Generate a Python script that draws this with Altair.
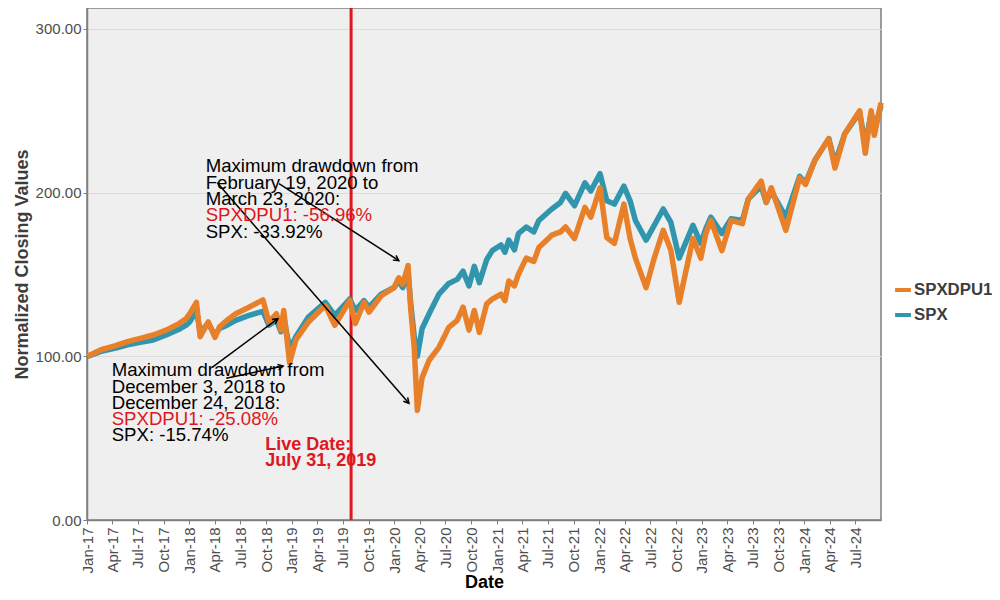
import altair as alt
import pandas as pd

# ---------------- data ----------------
dates = [
    "2017-01-03", "2017-02-20", "2017-04-13", "2017-05-25", "2017-07-10", "2017-08-25",
    "2017-10-10", "2017-11-25", "2017-12-20", "2018-01-02", "2018-01-26", "2018-02-08",
    "2018-03-09", "2018-04-02", "2018-04-18", "2018-05-15", "2018-06-15", "2018-08-01",
    "2018-09-20", "2018-10-11", "2018-11-07", "2018-11-23", "2018-12-03", "2018-12-24",
    "2019-01-15", "2019-03-01", "2019-04-30", "2019-06-03", "2019-07-26", "2019-08-15",
    "2019-09-15", "2019-10-03", "2019-11-15", "2019-12-31", "2020-01-17", "2020-01-31",
    "2020-02-19", "2020-02-28", "2020-03-12", "2020-03-23", "2020-04-09", "2020-05-04",
    "2020-06-08", "2020-07-13", "2020-08-12", "2020-09-02", "2020-09-23", "2020-10-12",
    "2020-10-30", "2020-11-25", "2020-12-15", "2021-01-15", "2021-01-29", "2021-02-12",
    "2021-03-04", "2021-03-18", "2021-04-15", "2021-05-12", "2021-05-30", "2021-07-15",
    "2021-08-15", "2021-09-02", "2021-10-04", "2021-11-10", "2021-12-01", "2022-01-03",
    "2022-01-27", "2022-02-23", "2022-03-29", "2022-04-20", "2022-05-09", "2022-06-16",
    "2022-07-15", "2022-08-16", "2022-09-12", "2022-10-12", "2022-11-30", "2022-12-28",
    "2023-01-15", "2023-02-02", "2023-03-13", "2023-04-15", "2023-05-25", "2023-06-15",
    "2023-07-31", "2023-08-18", "2023-09-05", "2023-10-27", "2023-12-15", "2024-01-05",
    "2024-02-08", "2024-03-28", "2024-04-19", "2024-05-24", "2024-07-16", "2024-08-05",
    "2024-08-26", "2024-09-06", "2024-09-30",
]
spxdpu1 = [
    100, 104, 106.5, 109, 111, 113,
    116, 120, 123, 126, 133, 112,
    121, 111.5, 118, 122, 126, 130,
    134.5, 121, 126, 116, 128, 96,
    110, 121, 131, 119, 134, 120,
    133, 127, 137, 142, 148, 144,
    155.5, 130, 105, 67, 87, 97.6,
    105.5, 117.7, 122, 130, 116, 128,
    114.6, 132, 135, 138, 134, 146,
    143, 150, 160, 158, 166.5, 174,
    176, 179, 172, 191, 185, 203,
    172.5, 169, 193, 172, 160, 142,
    160, 177, 165, 133, 172, 160,
    175, 183, 164.6, 183, 181, 196,
    207, 194, 203, 177, 209, 205,
    220, 233, 215, 236, 250, 224,
    250, 235, 255,
]
spx = [
    100, 103, 105, 107, 108.5, 110,
    113, 116.5, 119, 121, 128, 115,
    120, 113, 117, 119, 122, 125,
    127.5, 119, 122, 115, 124, 104.5,
    112, 124, 133, 125, 135, 128,
    134, 130, 138, 142, 146, 142,
    151, 133, 112, 100, 117, 126,
    138, 144.5, 147, 152, 143, 155,
    145, 159, 164.6, 168, 163.6, 171,
    165, 175, 179, 176, 183, 190,
    194, 199.5, 192, 206, 201, 211.6,
    195, 193, 204, 195, 183, 171,
    180, 190, 182, 160, 180, 169,
    178, 185, 175, 184, 183, 196,
    204, 194, 201, 185, 210, 206,
    220, 233, 218, 236, 249, 229,
    249, 238, 253,
]

series_names = ["SPXDPU1", "SPX"]
live_date = "2019-07-31"
x_domain = ["2017-01-01", "2024-09-30"]
y_domain = [0, 312.8]
y_ticks = [0, 100, 200, 300]

# annotation text (line by line)
upper_text = ["Maximum drawdown from", "February 19, 2020 to", "March 23, 2020:",
              "SPXDPU1: -56.96%", "SPX: -33.92%"]
upper_is_red = [False, False, False, True, False]
upper_date = "2018-02-28"
upper_vals = [216.5, 206.1, 196.3, 186.6, 176.2]

lower_text = ["Maximum drawdown from", "December 3, 2018 to", "December 24, 2018:",
              "SPXDPU1: -25.08%", "SPX: -15.74%"]
lower_is_red = [False, False, False, True, False]
lower_date = "2017-03-30"
lower_vals = [91.5, 81.1, 71.3, 61.6, 51.8]

live_text = ["Live Date:", "July 31, 2019"]
live_text_date = "2018-09-28"
live_text_vals = [45.7, 36.0]

# arrows: start (date, value) -> end (date, value)
arrow_x0 = ["2018-04-10", "2018-11-16", "2018-03-23", "2018-05-12"]
arrow_y0 = [206, 205.5, 93.3, 86.6]
arrow_x1 = ["2020-02-22", "2020-01-17", "2018-11-12", "2018-12-01"]
arrow_y1 = [71.3, 158.5, 123, 94]
arrow_angle = [139, 123, 53, 78]

# ---------------- styles ----------------
ORANGE = "#E8802A"
TEAL = "#3195AE"
RED = "#E0161E"
FONT = "Liberation Sans"

# ---------------- tables ----------------
lines_df = pd.concat([
    pd.DataFrame({"date": dates, "value": spx, "series": "SPX"}),
    pd.DataFrame({"date": dates, "value": spxdpu1, "series": "SPXDPU1"}),
])

text_df = pd.DataFrame({
    "date": [upper_date] * len(upper_text) + [lower_date] * len(lower_text),
    "value": upper_vals + lower_vals,
    "text": upper_text + lower_text,
    "col": [RED if r else "black" for r in upper_is_red + lower_is_red],
})
live_df = pd.DataFrame({"date": [live_text_date] * 2, "value": live_text_vals, "text": live_text})
arrow_df = pd.DataFrame({"x0": arrow_x0, "y0": arrow_y0, "x1": arrow_x1, "y1": arrow_y1,
                         "ang": arrow_angle})
live_line_df = pd.DataFrame({"date": [live_date]})

xscale = alt.Scale(type="utc", domain=x_domain)
yscale = alt.Scale(domain=y_domain, nice=False, zero=False)
xaxis = alt.Axis(format="%b-%y", tickCount=alt.TickCount(interval="month", step=3),
                 labelAngle=270, labelAlign="right", labelBaseline="middle",
                 labelFontSize=15, grid=False, title="Date", titleFontSize=18,
                 titleFontWeight="bold", titleColor="black", titleX=397, titleY=62,
                 titleBaseline="middle", labelOverlap=False, labelPadding=3)
yaxis = alt.Axis(values=y_ticks, format=".2f", labelFontSize=15, grid=True,
                 title="Normalized Closing Values", titleFontSize=18, titleFontWeight="bold",
                 titleColor="#3D3D3D", titleX=-65, titleY=256, titleAngle=270,
                 titleAlign="center", titleBaseline="middle", labelPadding=2)


def X(field):
    return alt.X(field, type="temporal", scale=xscale, axis=xaxis, title="Date")


def Y(field):
    return alt.Y(field, type="quantitative", scale=yscale, axis=yaxis,
                 title="Normalized Closing Values")


color = alt.Color("series:N", scale=alt.Scale(domain=series_names, range=[ORANGE, TEAL]),
                  legend=alt.Legend(orient="none", legendX=806, legendY=272, title=None,
                                    labelFont=FONT, labelFontSize=16.8, labelFontWeight="bold",
                                    labelColor="#3D3D3D", symbolType="stroke",
                                    symbolStrokeWidth=4, symbolSize=250, rowPadding=6,
                                    labelOffset=1, labelLimit=300))

teal_line = alt.Chart(lines_df).transform_filter(alt.datum.series == "SPX").mark_line(
    strokeWidth=5.5, strokeJoin="round").encode(x=X("date"), y=Y("value"), color=color)
orange_line = alt.Chart(lines_df).transform_filter(alt.datum.series == "SPXDPU1").mark_line(
    strokeWidth=5.5, strokeJoin="round").encode(x=X("date"), y=Y("value"), color=color)

live_rule = alt.Chart(live_line_df).mark_rule(color=RED, strokeWidth=3).encode(x=X("date"))

arrows = alt.Chart(arrow_df).mark_rule(color="black", strokeWidth=1.5).encode(
    x=X("x0"), y=Y("y0"), x2="x1", y2="y1")
heads = alt.Chart(arrow_df).mark_point(shape="M-0.55,1L0,0L0.55,1", filled=False,
                                       color="black", strokeWidth=1.5, size=110,
                                       opacity=1).encode(
    x=X("x1"), y=Y("y1"), angle=alt.Angle("ang:Q", scale=None))

texts = alt.Chart(text_df).mark_text(align="left", baseline="middle", font=FONT,
                                     fontSize=18.6).encode(
    x=X("date"), y=Y("value"), text="text:N", color=alt.Color("col:N", scale=None))
live_texts = alt.Chart(live_df).mark_text(align="left", baseline="middle", font=FONT,
                                          fontSize=18, fontWeight="bold", color=RED).encode(
    x=X("date"), y=Y("value"), text="text:N")

chart = alt.layer(live_rule, teal_line, orange_line, arrows, heads, texts, live_texts).properties(
    width=794, height=512,
    autosize=alt.AutoSizeParams(type="none"),
    padding={"left": 79, "top": 0, "right": 111, "bottom": 72},
    background="white",
).configure_view(
    fill="#EFEFEF", stroke="#7F7F7F", strokeWidth=1.5
).configure_axis(
    labelFont=FONT, titleFont=FONT, labelColor="#4D4D4D", domainColor="#7F7F7F",
    domainWidth=1.5, tickColor="#7F7F7F", tickSize=4, gridColor="#DCDCDC", gridWidth=1
)

chart.save("out.html", embed_options={"renderer": "svg", "actions": False})
